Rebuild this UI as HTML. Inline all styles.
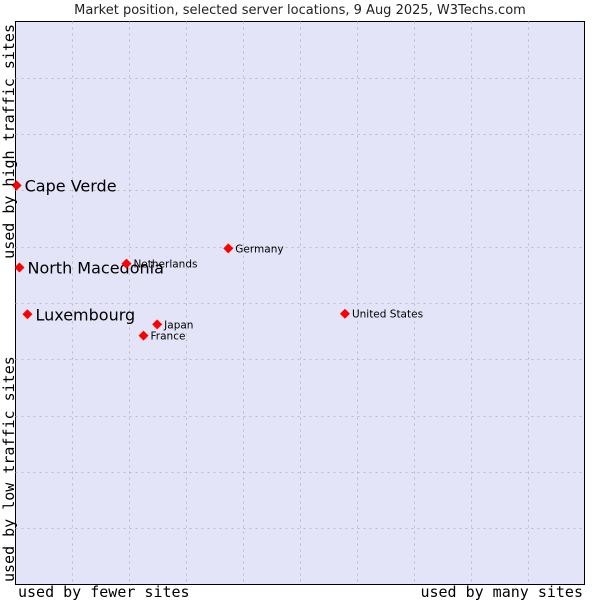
<!DOCTYPE html>
<html><head><meta charset="utf-8"><style>
body{margin:0;background:#fff;width:600px;height:600px;overflow:hidden}
svg text{font-family:"DejaVu Sans","Liberation Sans",sans-serif}
</style></head><body>
<svg id="chart" width="600" height="600" xmlns="http://www.w3.org/2000/svg">
<text x="300" y="14" text-anchor="middle" font-size="13" fill="#222">Market position, selected server locations, 9 Aug 2025, W3Techs.com</text>
<rect x="15.5" y="21.5" width="569" height="563" fill="#e4e4f8" stroke="#000" stroke-width="1"/>
<g id="grid"></g>
<g id="points"></g>
<text x="18" y="597" font-size="15" fill="#000" style="font-family:'DejaVu Sans Mono','Liberation Mono',monospace">used by fewer sites</text>
<text x="583" y="597" text-anchor="end" font-size="15" fill="#000" style="font-family:'DejaVu Sans Mono','Liberation Mono',monospace">used by many sites</text>
<text transform="translate(14,24) rotate(-90)" text-anchor="end" font-size="15" fill="#000" style="font-family:'DejaVu Sans Mono','Liberation Mono',monospace">used by high traffic sites</text>
<text transform="translate(14,582) rotate(-90)" font-size="15" fill="#000" style="font-family:'DejaVu Sans Mono','Liberation Mono',monospace">used by low traffic sites</text>
</svg>
<script>
const labels=["Cape Verde","North Macedonia","Luxembourg","Netherlands","Germany","Japan","France","United States"];
const xValues=[0.2,0.7,2.1,19.5,37.4,24.9,22.5,57.9];
const yValues=[70.9,56.3,48.0,57.0,59.7,46.2,44.2,48.1];
const bigLabel=[true,true,true,false,false,false,false,false];
const L=15.5,R=584.5,T=21.5,B=584.5;
const sx=v=>L+(R-L)*v/100, sy=v=>B-(B-T)*v/100;
const NS="http://www.w3.org/2000/svg";
const grid=document.getElementById('grid');
for(let i=1;i<10;i++){
 const x=Math.round(sx(i*10))+0.5,y=Math.round(sy(i*10))+0.5;
 const v=document.createElementNS(NS,'line');
 
 
 v.setAttribute('x1',x);v.setAttribute('x2',x);v.setAttribute('y1',T);v.setAttribute('y2',B);
 v.setAttribute('stroke','#bbb');v.setAttribute('stroke-dasharray','2,4');grid.appendChild(v);
 const h=document.createElementNS(NS,'line');
 
 
 h.setAttribute('x1',L);h.setAttribute('x2',R);h.setAttribute('y1',y);h.setAttribute('y2',y);
 h.setAttribute('stroke','#bbb');h.setAttribute('stroke-dasharray','2,4');grid.appendChild(h);
}
const pts=document.getElementById('points');
labels.forEach((lab,i)=>{
 const x=sx(xValues[i]),y=sy(yValues[i]);
 const d=document.createElementNS(NS,'path');
 
 
 d.setAttribute('d',`M${x-5},${y}L${x},${y-5}L${x+5},${y}L${x},${y+5}Z`);
 d.setAttribute('fill','#f00');pts.appendChild(d);
 const t=document.createElementNS(NS,'text');
 
 
 t.setAttribute('x',x+(bigLabel[i]?8:7));t.setAttribute('y',y+(bigLabel[i]?6:4));
 t.setAttribute('font-size',bigLabel[i]?16:10.5);t.setAttribute('fill','#000');
 t.textContent=lab;pts.appendChild(t);
});
</script>
</body></html>
